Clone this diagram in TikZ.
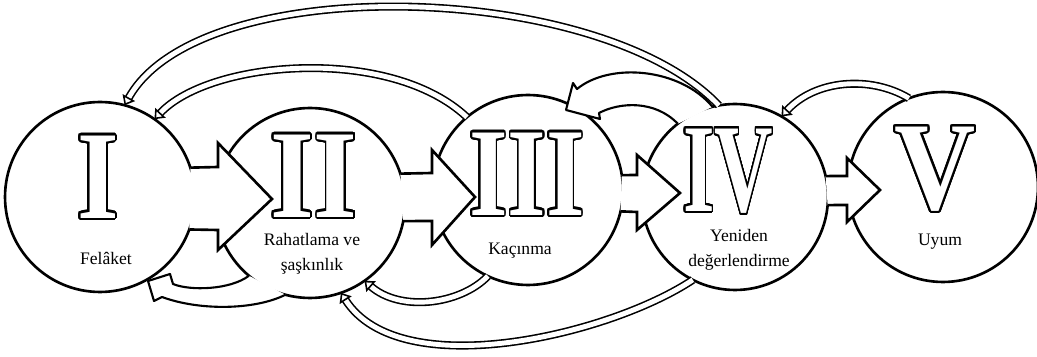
\documentclass[tikz,border=0pt]{standalone}
\usepackage{graphicx}
\usepackage{fontspec}
\setmainfont{Liberation Serif}
\usepackage{contour}
\contourlength{1.1pt}
\contournumber{32}
\usetikzlibrary{arrows.meta}
\newcommand{\stagenum}[2]{\scalebox{#1}[1.12]{\textcolor{white}{\contour{black}{#2}}}}
\tikzset{
  stage/.style={circle, draw, fill=white, line width=1.5pt, inner sep=0pt, outer sep=0pt, minimum size=3.8cm},
  numeral/.style={inner sep=0pt, font=\bfseries\fontsize{64}{64}\selectfont},
  caption/.style={inner sep=0pt, align=center, font=\fontsize{10}{14}\selectfont},
  stagearrow/.style={draw, fill=white, line width=1.5pt, line join=miter},
  backshape/.style={draw, fill=white, line width=1.2pt, line join=round},
  backband/.style={draw, line width=0.9pt, double=white, double distance=2.8pt},
  backtip/.style={-{Triangle[fill=white, length=5pt, width=8pt]}}
}
\begin{document}
\begin{tikzpicture}[x=0.02cm, y=-0.02cm]
\useasboundingbox (0,0) rectangle (1037,357);
\node[stage] (I) at (100,197) {};
\node[stage] (II) at (310,203) {};
\node[stage] (III) at (528,190) {};
\node[stage, minimum size=3.72cm] (IV) at (735,197) {};
\node[stage] (V) at (943,187) {};

\draw[stagearrow] (I.18) -- (218,167) -- (218,143) -- (272,199) -- (218,250) -- (218,230) -- (I.-20);
\draw[stagearrow] (II.18) -- (432,173) -- (432,150) -- (475,197) -- (432,245) -- (432,221) -- (II.-11);
\draw[stagearrow] (III.9) -- (637,175) -- (637,155) -- (680,193) -- (637,230) -- (637,212) -- (III.-13);
\draw[stagearrow] (IV.13) -- (847,176) -- (847,158) -- (880,190) -- (847,222) -- (847,205) -- (IV.-5);

\draw[backshape] (II.230) .. controls (230,290) and (190,291) .. (173,284) -- (170,274) -- (148,281) -- (154,301) -- (162,297) .. controls (200,311) and (255,310) .. (II.255);
\draw[backshape] (IV.104) .. controls (680,68) and (610,62) .. (577,89) -- (573,83) -- (566,110) -- (600,119) -- (599,113) .. controls (620,102) and (655,100) .. (IV.128);

\draw[backband, backtip] (III.245) .. controls (460,305) and (400,312) .. (II.-55);
\draw[backband, backtip] (IV.243) .. controls (610,335) and (400,385) .. (II.-71);
\draw[backband, backtip] (III.130) .. controls (390,45) and (210,60) .. (I.55);
\draw[backband, backtip] (IV.100) .. controls (600,-20) and (200,-30) .. (I.75);
\draw[backband, backtip] (V.111) .. controls (870,75) and (815,80) .. (IV.60);

\node[numeral] (nI) at (98,178) {\stagenum{0.95}{I}};
\node[numeral] (nII) at (314,177) {\stagenum{1}{II}};
\node[numeral] (nIII) at (527,175) {\stagenum{0.88}{III}};
\node[numeral] (nIV) at (728,172) {\stagenum{0.72}{IV}};
\node[numeral] (nV) at (935,170) {\stagenum{1}{V}};

\node[caption] (lI) at (106,258) {Felâket};
\node[caption] (lII) at (312,254) {Rahatlama ve\\şaşkınlık};
\node[caption] (lIII) at (520,251) {Kaçınma};
\node[caption] (lIV) at (739,250) {Yeniden\\değerlendirme};
\node[caption] (lV) at (940,242) {Uyum};
\end{tikzpicture}
\end{document}
